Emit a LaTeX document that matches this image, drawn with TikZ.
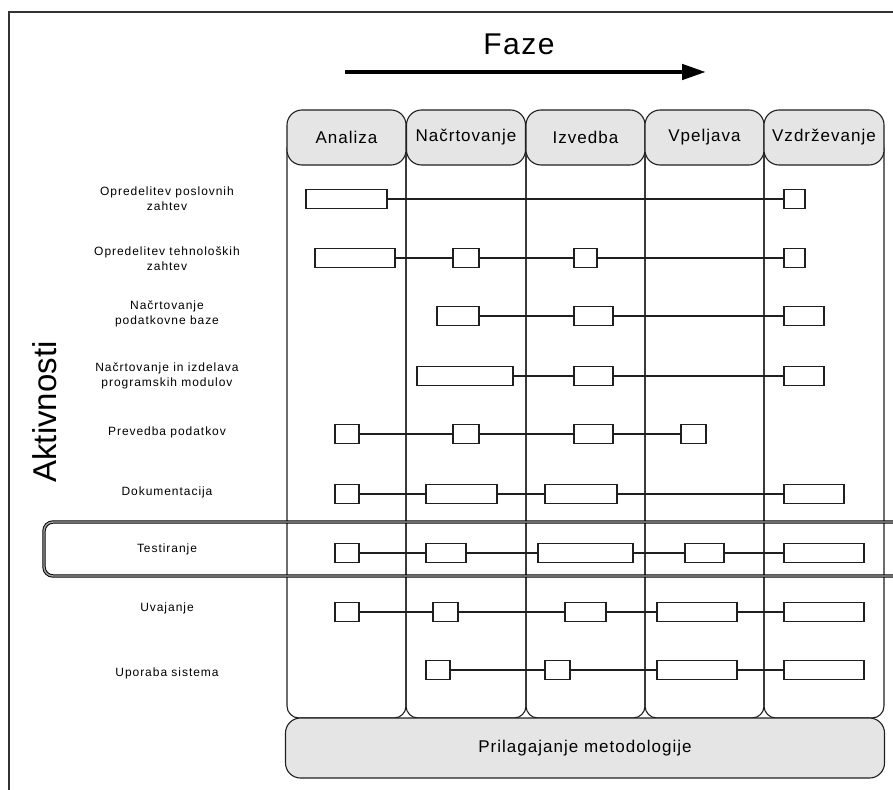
\documentclass[tikz,border=0pt]{standalone}
\usepackage{fontspec}
\setmainfont{Liberation Sans}
\usetikzlibrary{arrows.meta}

\tikzset{
  ink/.style={draw=black!88, line width=1.1pt},
  phasehead/.style={ink, fill=black!10, rounded corners=15pt, minimum width=119pt,
    minimum height=55pt, inner sep=0pt, font=\fontsize{17}{20}\selectfont\addfontfeatures{LetterSpace=6}},
  phasecol/.style={ink, rounded corners=12pt},
  task/.style={ink, fill=white, minimum height=19pt, inner sep=0pt},
  tasklabel/.style={align=center, font=\fontsize{12}{15}\selectfont\addfontfeatures{LetterSpace=8}},
  link/.style={ink},
  band/.style={draw=black, line width=1pt, double=black!35, double distance=1.4pt, rounded corners=9pt},
}

\begin{document}
\begin{tikzpicture}[x=1pt,y=-1pt]
\useasboundingbox (0,0) rectangle (893,789);
\clip (0,0) rectangle (893,789);

% outer frame
\draw[draw=black!80, line width=1.2pt] (9,12) rectangle (905,800);

% title and direction arrow
\node[font=\fontsize{30}{34}\selectfont\addfontfeatures{LetterSpace=5}] (faze) at (519,44) {Faze};
\coordinate (arrS) at (345,72);
\coordinate (arrE) at (706,72);
\draw[line width=4.5pt, -{Triangle[length=24pt,width=15pt]}] (arrS) -- (arrE);

% vertical title for activities
\node[rotate=90, font=\fontsize{33}{36}\selectfont] (akt) at (45,412) {Aktivnosti};

% phase columns
\draw[phasecol] (287,137) rectangle (406,718);
\draw[phasecol] (406,137) rectangle (526,718);
\draw[phasecol] (526,137) rectangle (645,718);
\draw[phasecol] (645,137) rectangle (764,718);
\draw[phasecol] (764,137) rectangle (884,718);

% phase headers
\node[phasehead] (h1) at (346.5,137.5) {Analiza};
\node[phasehead] (h2) at (466,137.5) {Načrtovanje};
\node[phasehead] (h3) at (585.5,137.5) {Izvedba};
\node[phasehead] (h4) at (704.5,137.5) {Vpeljava};
\node[phasehead, minimum width=120pt] (h5) at (824,137.5) {Vzdrževanje};

% methodology tailoring bar
\node[phasehead, minimum width=599pt, minimum height=60pt] (prilag) at (585,748) {Prilagajanje metodologije};

% highlighted testing row
\draw[band] (905,522) -- (44,522) -- (44,576) -- (905,576);

% activity labels
\node[tasklabel] (l1) at (167,199) {Opredelitev poslovnih\\zahtev};
\node[tasklabel] (l2) at (167,259) {Opredelitev tehnoloških\\zahtev};
\node[tasklabel] (l3) at (167,314) {Načrtovanje\\podatkovne baze};
\node[tasklabel] (l4) at (167,376) {Načrtovanje in izdelava\\programskih modulov};
\node[tasklabel] (l5) at (167,432) {Prevedba podatkov};
\node[tasklabel] (l6) at (167,492) {Dokumentacija};
\node[tasklabel] (l7) at (167,549) {Testiranje};
\node[tasklabel] (l8) at (167,608) {Uvajanje};
\node[tasklabel] (l9) at (167,673) {Uporaba sistema};

% row 1
\node[task, minimum width=81pt] (r1a) at (346.5,199) {};
\node[task, minimum width=21pt] (r1b) at (794.5,199) {};
\draw[link] (r1a) -- (r1b);

% row 2
\node[task, minimum width=80pt] (r2a) at (355,258) {};
\node[task, minimum width=26pt] (r2b) at (466,258) {};
\node[task, minimum width=23pt] (r2c) at (585.5,258) {};
\node[task, minimum width=21pt] (r2d) at (794.5,258) {};
\draw[link] (r2a) -- (r2b) (r2b) -- (r2c) (r2c) -- (r2d);

% row 3
\node[task, minimum width=42pt] (r3a) at (458,316) {};
\node[task, minimum width=39pt] (r3b) at (593.5,316) {};
\node[task, minimum width=40pt] (r3c) at (804,316) {};
\draw[link] (r3a) -- (r3b) (r3b) -- (r3c);

% row 4
\node[task, minimum width=96pt] (r4a) at (465,376) {};
\node[task, minimum width=39pt] (r4b) at (593.5,376) {};
\node[task, minimum width=40pt] (r4c) at (804,376) {};
\draw[link] (r4a) -- (r4b) (r4b) -- (r4c);

% row 5
\node[task, minimum width=24pt] (r5a) at (347,434) {};
\node[task, minimum width=26pt] (r5b) at (466,434) {};
\node[task, minimum width=39pt] (r5c) at (593.5,434) {};
\node[task, minimum width=25pt] (r5d) at (693.5,434) {};
\draw[link] (r5a) -- (r5b) (r5b) -- (r5c) (r5c) -- (r5d);

% row 6
\node[task, minimum width=24pt] (r6a) at (347,494) {};
\node[task, minimum width=71pt] (r6b) at (461.5,494) {};
\node[task, minimum width=72pt] (r6c) at (581,494) {};
\node[task, minimum width=60pt] (r6d) at (814,494) {};
\draw[link] (r6a) -- (r6b) (r6b) -- (r6c) (r6c) -- (r6d);

% row 7
\node[task, minimum width=24pt] (r7a) at (347,553) {};
\node[task, minimum width=40pt] (r7b) at (446,553) {};
\node[task, minimum width=95pt] (r7c) at (585.5,553) {};
\node[task, minimum width=39pt] (r7d) at (704.5,553) {};
\node[task, minimum width=80pt] (r7e) at (824,553) {};
\draw[link] (r7a) -- (r7b) (r7b) -- (r7c) (r7c) -- (r7d) (r7d) -- (r7e);

% row 8
\node[task, minimum width=24pt] (r8a) at (347,612) {};
\node[task, minimum width=25pt] (r8b) at (445.5,612) {};
\node[task, minimum width=41pt] (r8c) at (585.5,612) {};
\node[task, minimum width=80pt] (r8d) at (697,612) {};
\node[task, minimum width=80pt] (r8e) at (824,612) {};
\draw[link] (r8a) -- (r8b) (r8b) -- (r8c) (r8c) -- (r8d) (r8d) -- (r8e);

% row 9
\node[task, minimum width=24pt] (r9a) at (438,670) {};
\node[task, minimum width=25pt] (r9b) at (557.5,670) {};
\node[task, minimum width=80pt] (r9c) at (697,670) {};
\node[task, minimum width=80pt] (r9d) at (824,670) {};
\draw[link] (r9a) -- (r9b) (r9b) -- (r9c) (r9c) -- (r9d);
\end{tikzpicture}
\end{document}
